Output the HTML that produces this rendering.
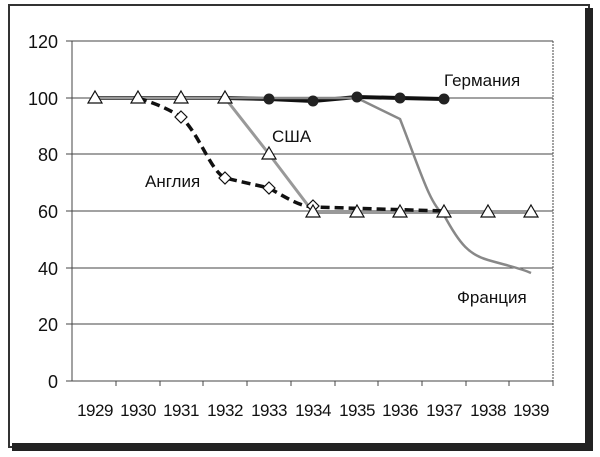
<!DOCTYPE html>
<html><head><meta charset="utf-8"><style>
body{margin:0;background:#fff;}
svg{display:block;font-family:"Liberation Sans","DejaVu Sans",sans-serif;}
</style></head><body>
<svg width="600" height="457" viewBox="0 0 600 457">
<rect width="600" height="457" fill="#fff"/>
<rect x="9" y="5" width="580" height="442" fill="none" stroke="#333" stroke-width="2"/>
<rect x="585" y="8" width="8" height="443" fill="#222"/>
<rect x="12" y="443" width="581" height="8" fill="#222"/>
<g stroke="#444" stroke-width="1">
<line x1="72" y1="41" x2="553" y2="41"/>
<line x1="72" y1="98" x2="553" y2="98"/>
<line x1="72" y1="154" x2="553" y2="154"/>
<line x1="72" y1="211" x2="553" y2="211"/>
<line x1="72" y1="268" x2="553" y2="268"/>
<line x1="72" y1="324" x2="553" y2="324"/>
<line x1="72" y1="381" x2="553" y2="381"/>
<line x1="72" y1="41" x2="72" y2="381"/>
<line x1="553" y1="41" x2="553" y2="381" stroke-dasharray="2,1"/>
<line x1="66" y1="41" x2="72" y2="41"/><line x1="66" y1="98" x2="72" y2="98"/><line x1="66" y1="154" x2="72" y2="154"/><line x1="66" y1="211" x2="72" y2="211"/><line x1="66" y1="268" x2="72" y2="268"/><line x1="66" y1="324" x2="72" y2="324"/><line x1="66" y1="381" x2="72" y2="381"/>
<line x1="116" y1="381" x2="116" y2="386"/><line x1="160" y1="381" x2="160" y2="386"/><line x1="203" y1="381" x2="203" y2="386"/><line x1="247" y1="381" x2="247" y2="386"/><line x1="291" y1="381" x2="291" y2="386"/><line x1="335" y1="381" x2="335" y2="386"/><line x1="378" y1="381" x2="378" y2="386"/><line x1="422" y1="381" x2="422" y2="386"/><line x1="466" y1="381" x2="466" y2="386"/><line x1="509" y1="381" x2="509" y2="386"/><line x1="553" y1="381" x2="553" y2="386"/>
</g>
<g font-size="18" fill="#111" text-anchor="end">
<text x="58" y="48">120</text><text x="58" y="105">100</text><text x="58" y="161">80</text><text x="58" y="218">60</text><text x="58" y="275">40</text><text x="58" y="331">20</text><text x="58" y="388">0</text>
</g>
<g font-size="17" fill="#111" text-anchor="middle" letter-spacing="-0.5">
<text x="95" y="416">1929</text><text x="138" y="416">1930</text><text x="181" y="416">1931</text><text x="225" y="416">1932</text><text x="269" y="416">1933</text><text x="313" y="416">1934</text><text x="357" y="416">1935</text><text x="400" y="416">1936</text><text x="444" y="416">1937</text><text x="488" y="416">1938</text><text x="531" y="416">1939</text>
</g>
<polyline points="95,98 225,98 269,99 313,101 357,97 400,98 444,99" fill="none" stroke="#111" stroke-width="4"/>
<path d="M95,98 L357,98 L400,119 C420,170 430,205 444,215 C460,245 470,255 488,260 C505,265 520,268 531,273" fill="none" stroke="#888" stroke-width="2.5"/>
<polyline points="95,98 225,98 269,154 313,212 531,212" fill="none" stroke="#999" stroke-width="3"/>
<polyline points="313,212 531,212" fill="none" stroke="#999" stroke-width="4"/>
<path d="M138,98 C160,105 170,110 181,117 C200,135 210,170 225,178 L269,188 C290,200 300,206 313,207 L444,211" fill="none" stroke="#111" stroke-width="3.5" stroke-dasharray="9,5"/>
<g fill="#fff" stroke="#111" stroke-width="1.2">
<path d="M181,111 l6,6 -6,6 -6,-6z"/><path d="M225,172 l6,6 -6,6 -6,-6z"/><path d="M269,182 l6,6 -6,6 -6,-6z"/><path d="M313,200 l6,6 -6,6 -6,-6z"/>
</g>
<g fill="#222">
<circle cx="269" cy="99" r="5.5"/><circle cx="313" cy="101" r="5.5"/><circle cx="357" cy="97" r="5.5"/><circle cx="400" cy="98" r="5.5"/><circle cx="444" cy="99" r="5.5"/>
</g>
<g fill="#fff" stroke="#111" stroke-width="1.2">
<path d="M95,91 l7,12 h-14z"/><path d="M138,91 l7,12 h-14z"/><path d="M181,91 l7,12 h-14z"/><path d="M225,91 l7,12 h-14z"/><path d="M269,147 l7,12 h-14z"/>
<path d="M313,205 l7,12 h-14z"/><path d="M357,205 l7,12 h-14z"/><path d="M400,205 l7,12 h-14z"/><path d="M444,205 l7,12 h-14z"/><path d="M488,205 l7,12 h-14z"/><path d="M531,205 l7,12 h-14z"/>
</g>
<g font-size="17" fill="#111">
<text x="444" y="86">Германия</text>
<text x="272" y="142">США</text>
<text x="145" y="187">Англия</text>
<text x="457" y="303">Франция</text>
</g>
</svg>
</body></html>
